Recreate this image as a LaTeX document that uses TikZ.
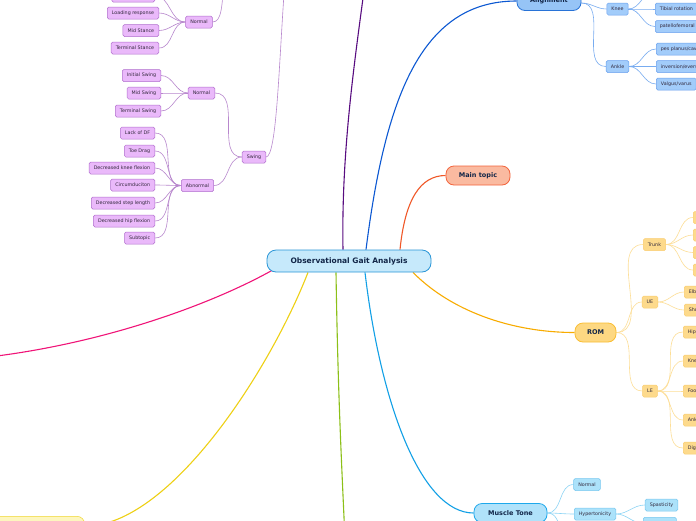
\documentclass[tikz,border=0pt]{standalone}
\usepackage{fontspec}
\setmainfont{DejaVu Sans}
\usepackage{xcolor}
\usepackage{tikz}
\usetikzlibrary{backgrounds}
\definecolor{centralfill}{RGB}{198,233,251}
\definecolor{centraledge}{RGB}{42,150,215}
\definecolor{navytext}{RGB}{18,38,72}
\definecolor{darktext}{RGB}{50,40,60}
\definecolor{purplefill}{RGB}{234,185,250}
\definecolor{purpleedge}{RGB}{176,110,205}
\definecolor{purpleline}{RGB}{184,135,205}
\definecolor{darkpurple}{RGB}{88,12,128}
\definecolor{alignfill}{RGB}{150,196,246}
\definecolor{alignedge}{RGB}{40,115,215}
\definecolor{bluefill}{RGB}{162,204,250}
\definecolor{blueedge}{RGB}{105,160,238}
\definecolor{blueline}{RGB}{120,172,240}
\definecolor{bluemain}{RGB}{12,88,210}
\definecolor{salmonfill}{RGB}{250,186,160}
\definecolor{salmonedge}{RGB}{243,100,60}
\definecolor{redmain}{RGB}{240,88,40}
\definecolor{romfill}{RGB}{253,216,130}
\definecolor{romedge}{RGB}{250,190,50}
\definecolor{goldfill}{RGB}{253,218,140}
\definecolor{goldedge}{RGB}{250,205,110}
\definecolor{goldline}{RGB}{253,222,150}
\definecolor{goldmain}{RGB}{248,172,0}
\definecolor{mtfill}{RGB}{176,226,250}
\definecolor{mtedge}{RGB}{30,168,235}
\definecolor{skyfill}{RGB}{172,226,250}
\definecolor{skyedge}{RGB}{120,200,240}
\definecolor{skyline}{RGB}{140,212,245}
\definecolor{skymain}{RGB}{18,160,230}
\definecolor{pinkmain}{RGB}{240,20,120}
\definecolor{yellowmain}{RGB}{238,208,20}
\definecolor{yellowfill}{RGB}{253,246,190}
\definecolor{yellowedge}{RGB}{240,215,50}
\definecolor{greenmain}{RGB}{140,192,24}
\begin{document}
\begin{tikzpicture}[
x=1pt, y=-1pt,
central/.style={draw=centraledge, fill=centralfill, line width=0.8pt, rounded corners=9pt, minimum width=164pt, minimum height=22pt, font=\bfseries\fontsize{7.5}{9}\selectfont, text=navytext},
topic/.style={draw, line width=0.8pt, rounded corners=8pt, minimum height=19pt, inner xsep=10pt, font=\bfseries\fontsize{6.5}{8}\selectfont, text=navytext},
subbox/.style={draw, line width=0.5pt, rounded corners=1.5pt, minimum height=12pt, inner xsep=4.6pt, inner ysep=0pt, font=\fontsize{4.8}{5.5}\selectfont, text=darktext},
pbox/.style={subbox, fill=purplefill, draw=purpleedge},
bbox/.style={subbox, fill=bluefill, draw=blueedge},
obox/.style={subbox, fill=goldfill, draw=goldedge},
sbox/.style={subbox, fill=skyfill, draw=skyedge},
mainlink/.style={line width=1.1pt},
purplelink/.style={draw=purpleline, line width=0.6pt},
bluelink/.style={draw=blueline, line width=0.6pt},
goldlink/.style={draw=goldline, line width=0.6pt},
skylink/.style={draw=skyline, line width=0.6pt}
]
\useasboundingbox (0,0) rectangle (696,520);
\clip (0,0) rectangle (696,520);
\node[central] (central) at (349,261) {Observational Gait Analysis};
\node[topic, fill=alignfill, draw=alignedge, minimum width=64pt] (align) at (549,1) {Alignment};
\node[topic, fill=salmonfill, draw=salmonedge, minimum width=64pt] (maintopic) at (478,175.5) {Main topic};
\node[topic, fill=romfill, draw=romedge, minimum width=41pt] (rom) at (595.5,332.5) {ROM};
\node[topic, fill=mtfill, draw=mtedge, minimum width=73pt] (muscle) at (510.5,513) {Muscle Tone};
\node[subbox, fill=yellowfill, draw=yellowedge, rounded corners=8pt, minimum width=100pt, minimum height=20pt, anchor=north east] (yellowtopic) at (85,516) {};
\coordinate (cyclep) at (368,-40);
\coordinate (pinkend) at (-20,358);
\coordinate (greenend) at (345,540);

\node[pbox, anchor=east, minimum width=43pt] (initc) at (155,-4) {};
\node[pbox, anchor=east] (loading) at (159,13) {Loading response};
\node[pbox, anchor=east] (midst) at (159,30.5) {Mid Stance};
\node[pbox, anchor=east] (termst) at (159,48) {Terminal Stance};
\node[pbox] (normalst) at (199,22) {Normal};
\coordinate (stancep) at (224,-20);
\node[pbox, anchor=east] (initsw) at (161,75.5) {Initial Swing};
\node[pbox, anchor=east] (midsw) at (161,93) {Mid Swing};
\node[pbox, anchor=east] (termsw) at (161,111) {Terminal Swing};
\node[pbox] (normalsw) at (201.5,93) {Normal};
\node[pbox, anchor=east] (lackdf) at (155,133) {Lack of DF};
\node[pbox, anchor=east] (toedrag) at (155,151) {Toe Drag};
\node[pbox, anchor=east] (decknee) at (155,168) {Decreased knee flexion};
\node[pbox, anchor=east] (circ) at (155,185) {Circumduciton};
\node[pbox, anchor=east] (decstep) at (155,203) {Decreased step length};
\node[pbox, anchor=east] (dechip) at (155,221) {Decreased hip flexion};
\node[pbox, anchor=east] (subtopic) at (155,238) {Subtopic};
\node[pbox] (abnormal) at (197.5,185.5) {Abnormal};
\node[pbox] (swing) at (254,157) {Swing};
\coordinate (gaitp) at (285,-20);

\node[bbox] (knee) at (617.5,9) {Knee};
\node[bbox] (ankle) at (617.5,66.5) {Ankle};
\coordinate (kneeup) at (655,-9);
\node[bbox, anchor=west] (tibial) at (655,9) {Tibial rotation};
\node[bbox, anchor=west] (patello) at (655,26.5) {patellofemoral};
\node[bbox, anchor=west] (pes) at (656,49) {pes planus/cavus};
\node[bbox, anchor=west] (invers) at (656,66.5) {inversion/eversion};
\node[bbox, anchor=west] (valgus) at (656,84) {Valgus/varus};

\node[obox] (trunk) at (654.5,244.5) {Trunk};
\node[obox] (ue) at (650,302) {UE};
\node[obox] (le) at (650,391) {LE};
\node[obox, anchor=west, minimum width=20pt] (trunka) at (693,217.5) {};
\node[obox, anchor=west, minimum width=20pt] (trunkb) at (693,235) {};
\node[obox, anchor=west, minimum width=20pt] (trunkc) at (693,252.5) {};
\node[obox, anchor=west, minimum width=20pt] (trunkd) at (693,270) {};
\node[obox, anchor=west] (elbow) at (684,292) {Elbow};
\node[obox, anchor=west] (shoulder) at (684,310) {Shoulder};
\node[obox, anchor=west] (hip) at (683,332) {Hip};
\node[obox, anchor=west] (kneer) at (683,361) {Knee};
\node[obox, anchor=west] (foot) at (683,391) {Foot};
\node[obox, anchor=west] (ankler) at (683,420) {Ankle};
\node[obox, anchor=west] (digits) at (683,448) {Digits};

\node[sbox] (mtnormal) at (587,484.5) {Normal};
\node[sbox] (hyper) at (595,514) {Hypertonicity};
\coordinate (mtdown) at (574,548);
\node[sbox] (spast) at (661.5,505) {Spasticity};
\node[sbox, anchor=north west, minimum width=33pt] (rigid) at (643,517) {};

\begin{scope}[on background layer]
\fill[white] (0,0) rectangle (696,520);
\draw[mainlink, draw=darkpurple] ([xshift=-6]central.north) .. controls (341,140) and (358,40) .. (cyclep);
\draw[mainlink, draw=bluemain] ([xshift=17]central.north) .. controls (385,100) and (420,1) .. (align.west);
\draw[mainlink, draw=redmain] ([xshift=51]central.north) .. controls (405,200) and (420,175.5) .. (maintopic.west);
\draw[mainlink, draw=goldmain] ([xshift=64]central.south) .. controls (450,310) and (510,332.5) .. (rom.west);
\draw[mainlink, draw=skymain] ([xshift=16]central.south) .. controls (380,400) and (420,513) .. (muscle.west);
\draw[mainlink, draw=greenmain] ([xshift=-13]central.south) .. controls (338,400) and (342,470) .. (greenend);
\draw[mainlink, draw=yellowmain] ([xshift=-41]central.south) .. controls (270,370) and (170,526) .. (yellowtopic.east);
\draw[mainlink, draw=pinkmain] ([xshift=-77,yshift=2]central.south) .. controls (210,305) and (100,345) .. (pinkend);

\draw[purplelink] (normalst.east) .. controls (222,22) and (222,5) .. (stancep);
\draw[purplelink] (normalst.west) to[out=180,in=0] (initc.east);
\draw[purplelink] (normalst.west) to[out=180,in=0] (loading.east);
\draw[purplelink] (normalst.west) to[out=180,in=0] (midst.east);
\draw[purplelink] (normalst.west) to[out=180,in=0] (termst.east);
\draw[purplelink] (swing.east) .. controls (277,157) and (279,60) .. (gaitp);
\draw[purplelink] (swing.west) to[out=180,in=0] (normalsw.east);
\draw[purplelink] (swing.west) to[out=180,in=0] (abnormal.east);
\draw[purplelink] (normalsw.west) to[out=180,in=0] (initsw.east);
\draw[purplelink] (normalsw.west) to[out=180,in=0] (midsw.east);
\draw[purplelink] (normalsw.west) to[out=180,in=0] (termsw.east);
\draw[purplelink] (abnormal.west) to[out=180,in=0] (lackdf.east);
\draw[purplelink] (abnormal.west) to[out=180,in=0] (toedrag.east);
\draw[purplelink] (abnormal.west) to[out=180,in=0] (decknee.east);
\draw[purplelink] (abnormal.west) to[out=180,in=0] (circ.east);
\draw[purplelink] (abnormal.west) to[out=180,in=0] (decstep.east);
\draw[purplelink] (abnormal.west) to[out=180,in=0] (dechip.east);
\draw[purplelink] (abnormal.west) to[out=180,in=0] (subtopic.east);

\draw[bluelink] ([yshift=-2]align.east) to[out=0,in=180] (knee.west);
\draw[bluelink] ([yshift=-2]align.east) to[out=0,in=180] (ankle.west);
\draw[bluelink] (knee.east) to[out=0,in=180] (kneeup);
\draw[bluelink] (knee.east) to[out=0,in=180] (tibial.west);
\draw[bluelink] (knee.east) to[out=0,in=180] (patello.west);
\draw[bluelink] (ankle.east) to[out=0,in=180] (pes.west);
\draw[bluelink] (ankle.east) to[out=0,in=180] (invers.west);
\draw[bluelink] (ankle.east) to[out=0,in=180] (valgus.west);

\draw[goldlink] (rom.east) to[out=0,in=180] (trunk.west);
\draw[goldlink] (rom.east) to[out=0,in=180] (ue.west);
\draw[goldlink] (rom.east) to[out=0,in=180] (le.west);
\draw[goldlink] (trunk.east) to[out=0,in=180] (trunka.west);
\draw[goldlink] (trunk.east) to[out=0,in=180] (trunkb.west);
\draw[goldlink] (trunk.east) to[out=0,in=180] (trunkc.west);
\draw[goldlink] (trunk.east) to[out=0,in=180] (trunkd.west);
\draw[goldlink] (ue.east) to[out=0,in=180] (elbow.west);
\draw[goldlink] (ue.east) to[out=0,in=180] (shoulder.west);
\draw[goldlink] (le.east) to[out=0,in=180] (hip.west);
\draw[goldlink] (le.east) to[out=0,in=180] (kneer.west);
\draw[goldlink] (le.east) to[out=0,in=180] (foot.west);
\draw[goldlink] (le.east) to[out=0,in=180] (ankler.west);
\draw[goldlink] (le.east) to[out=0,in=180] (digits.west);

\draw[skylink] (muscle.east) to[out=0,in=180] (mtnormal.west);
\draw[skylink] (muscle.east) to[out=0,in=180] (hyper.west);
\draw[skylink] (muscle.east) to[out=0,in=180] (mtdown);
\draw[skylink] (hyper.east) to[out=0,in=180] (spast.west);
\draw[skylink] (hyper.east) to[out=0,in=180] (rigid.west);
\end{scope}
\end{tikzpicture}
\end{document}
